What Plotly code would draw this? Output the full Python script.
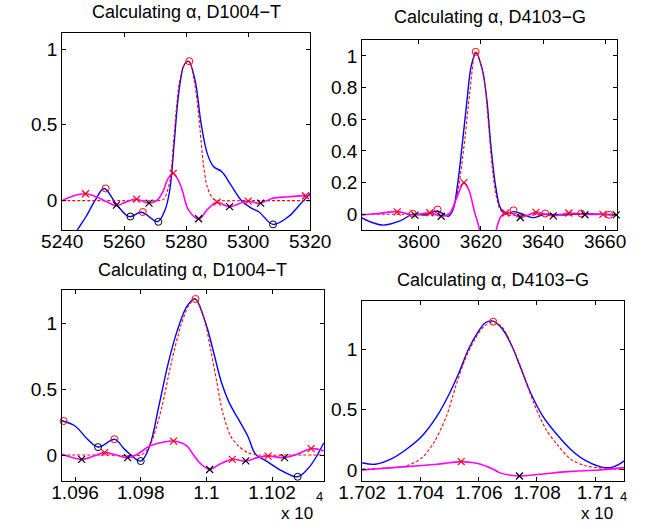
import plotly.graph_objects as go

# ---------------- Panel 1 (D1004-T, top-left) ----------------
p1_blue_x = [5243, 5245, 5247.7, 5250.7, 5253.5, 5257.7, 5261.6, 5265.6, 5270.8, 5273.2, 5274.7, 5276.2, 5277.2, 5278.2, 5279.2, 5280.7, 5282.8, 5284.8, 5286.8, 5288.8, 5291.5, 5294.5, 5297.8, 5301, 5303.5, 5308, 5313, 5316.5, 5321]
p1_blue_y = [-0.26, -0.19, -0.105, 0.005, 0.08, -0.03, -0.106, -0.077, -0.139, -0.06, 0.07, 0.40, 0.64, 0.80, 0.89, 0.92, 0.80, 0.51, 0.31, 0.225, 0.19, 0.10, 0.0, -0.05, -0.075, -0.157, -0.106, -0.03, 0.07]
p1_red_x = [5240, 5260, 5271, 5272.8, 5274.8, 5275.8, 5276.8, 5277.8, 5279.8, 5281, 5282.5, 5283.5, 5284.5, 5285.5, 5286.8, 5288.8, 5291, 5300, 5320]
p1_red_y = [0, 0, 0, 0.01, 0.137, 0.36, 0.60, 0.78, 0.91, 0.92, 0.80, 0.66, 0.46, 0.25, 0.09, 0.01, 0, 0, 0]
p1_mag_x = [5240, 5243.5, 5247.5, 5251, 5254, 5257.5, 5260.5, 5263.8, 5267.8, 5270.5, 5272.5, 5274, 5275.7, 5277.3, 5278.7, 5280.7, 5284, 5286.8, 5289.8, 5293.8, 5299.6, 5303.9, 5307.9, 5313, 5318, 5320]
p1_mag_y = [0.0, 0.03, 0.045, 0.025, -0.005, -0.033, -0.01, 0.011, -0.017, 0.0, 0.06, 0.14, 0.18, 0.14, 0.07, -0.06, -0.123, -0.06, -0.011, -0.04, -0.004, -0.017, 0.016, 0.025, 0.033, 0.03]
p1_rc_x = [5254, 5266, 5281]
p1_rc_y = [0.08, -0.075, 0.92]
p1_kc_x = [5262, 5271, 5308]
p1_kc_y = [-0.105, -0.14, -0.157]
p1_rx_x = [5247.5, 5264, 5275.8, 5290, 5300, 5318.5]
p1_rx_y = [0.045, 0.01, 0.18, -0.01, -0.003, 0.032]
p1_kx_x = [5257.5, 5268, 5284, 5294, 5304]
p1_kx_y = [-0.03, -0.017, -0.12, -0.04, -0.017]

# ---------------- Panel 2 (D4103-G, top-right) ----------------
p2_blue_x = [3581.5, 3584, 3588.4, 3593.9, 3597.9, 3601.9, 3605.9, 3609.5, 3611, 3612.4, 3613.9, 3615.4, 3616.9, 3618.4, 3620.4, 3621.9, 3623.2, 3624.7, 3626.2, 3627.7, 3630.7, 3633.5, 3636.7, 3640.7, 3646.7, 3652.7, 3658, 3663.8]
p2_blue_y = [-0.021, -0.045, -0.068, -0.042, 0.0, -0.004, 0.021, -0.012, 0.03, 0.18, 0.43, 0.70, 0.94, 1.02, 0.915, 0.72, 0.43, 0.18, 0.042, 0.006, 0.017, 0.0, -0.021, 0.0, -0.005, 0.004, 0.0, -0.004]
p2_red_x = [3581.5, 3595, 3609, 3610.5, 3611.8, 3613, 3614.9, 3616.4, 3618.3, 3620.9, 3622.2, 3623.7, 3624.7, 3626.2, 3628, 3640, 3664]
p2_red_y = [0, 0, 0, 0.015, 0.08, 0.2, 0.49, 0.77, 1.03, 0.87, 0.62, 0.28, 0.136, 0.03, 0, 0, 0]
p2_mag_x = [3581.5, 3587, 3593, 3598.4, 3603.4, 3607.2, 3609.7, 3612, 3614.5, 3616, 3618, 3619.5, 3621, 3622.5, 3624.7, 3626.2, 3627.7, 3630, 3632.7, 3637.7, 3643.3, 3648.3, 3653.3, 3659.3, 3663.8]
p2_mag_y = [-0.004, 0.005, 0.017, -0.004, 0.01, -0.011, 0.0, 0.095, 0.2, 0.158, 0.01, -0.095, -0.3, -0.3, -0.116, -0.021, 0.01, 0.005, -0.02, 0.012, -0.01, 0.008, 0.0, 0.0, -0.004]
p2_rc_x = [3598, 3606, 3618.3, 3630.5, 3640.7, 3652.3, 3661.3]
p2_rc_y = [0.004, 0.03, 1.025, 0.025, 0.005, 0.005, -0.003]
p2_kc_x = []
p2_kc_y = []
p2_rx_x = [3593, 3603.5, 3614.5, 3628, 3637.7, 3648.3, 3659.3]
p2_rx_y = [0.015, 0.01, 0.2, 0.008, 0.012, 0.008, 0.0]
p2_kx_x = [3598.7, 3607.2, 3632.7, 3643.3, 3653.5, 3663.6]
p2_kx_y = [-0.005, -0.012, -0.02, -0.01, -0.003, -0.004]

# ---------------- Panel 3 (D1004-T, bottom-left) ----------------
p3_blue_x = [10956, 10960, 10963.8, 10967.1, 10972.1, 10975.1, 10980, 10982.7, 10985.5, 10988.4, 10991.2, 10994.1, 10996.5, 10999.8, 11002.2, 11004.6, 11006.9, 11009.8, 11012.6, 11015, 11018.3, 11023, 11027.8, 11031.6, 11035.8]
p3_blue_y = [0.26, 0.22, 0.12, 0.061, 0.119, 0.043, -0.046, 0.068, 0.37, 0.70, 0.95, 1.13, 1.187, 1.0, 0.78, 0.55, 0.40, 0.27, 0.144, 0.005, -0.046, -0.12, -0.165, -0.084, 0.093]
p3_red_x = [10956, 10970, 10980, 10982, 10983.6, 10986.5, 10989.3, 10992.2, 10994.5, 10996.7, 10999.4, 11001.3, 11003.2, 11005, 11007.4, 11009.8, 11012.6, 11016, 11025, 11035.8]
p3_red_y = [0, 0, 0, 0.04, 0.12, 0.37, 0.70, 0.98, 1.13, 1.185, 1.03, 0.80, 0.55, 0.32, 0.144, 0.068, 0.018, 0, 0, 0]
p3_mag_x = [10956, 10962, 10965.5, 10969, 10972.5, 10976.1, 10978.9, 10982.7, 10986.5, 10990.1, 10994.1, 10995.6, 10998, 11001, 11004, 11007.9, 11012, 11015.5, 11018.8, 11023.8, 11028, 11031.9, 11035.8]
p3_mag_y = [0.005, -0.033, -0.01, 0.018, 0.0, -0.02, 0.005, 0.068, 0.095, 0.106, 0.068, 0.018, -0.06, -0.109, -0.07, -0.033, -0.046, -0.02, -0.008, -0.02, 0.01, 0.048, 0.03]
p3_rc_x = [10956.5, 10972, 10996.7]
p3_rc_y = [0.258, 0.12, 1.185]
p3_kc_x = [10967, 10980, 11027.8]
p3_kc_y = [0.06, -0.046, -0.165]
p3_rx_x = [10969, 10990, 11007.9, 11018.8, 11031.9]
p3_rx_y = [0.018, 0.105, -0.033, -0.008, 0.048]
p3_kx_x = [10962, 10976, 11001, 11012, 11023.8]
p3_kx_y = [-0.033, -0.02, -0.11, -0.045, -0.02]

# ---------------- Panel 4 (D4103-G, bottom-right) ----------------
p4_blue_x = [17020, 17024.5, 17029.8, 17035.1, 17040.5, 17045.8, 17050.1, 17053.3, 17056.5, 17059.7, 17062.3, 17065, 17068.2, 17071.4, 17074.6, 17077.8, 17082, 17086.3, 17091.6, 17096.9, 17103.3, 17106.5, 17110]
p4_blue_y = [0.06, 0.047, 0.089, 0.17, 0.28, 0.45, 0.64, 0.81, 1.0, 1.14, 1.22, 1.234, 1.166, 1.027, 0.834, 0.64, 0.447, 0.31, 0.17, 0.075, 0.019, 0.028, 0.075]
p4_red_x = [17020, 17027, 17035.1, 17040.5, 17044.7, 17049, 17052.2, 17055.4, 17058.6, 17061.8, 17065, 17068.2, 17072.5, 17075.6, 17078.8, 17083.1, 17087.3, 17091.6, 17096.9, 17104.4, 17110]
p4_red_y = [0.006, 0.015, 0.033, 0.10, 0.23, 0.45, 0.70, 0.92, 1.08, 1.19, 1.23, 1.18, 0.97, 0.78, 0.56, 0.337, 0.20, 0.089, 0.033, 0.011, 0.005]
p4_mag_x = [17020, 17035.1, 17045.8, 17050, 17054.1, 17057.5, 17060.7, 17065.5, 17067.1, 17070.5, 17074, 17081, 17090.5, 17101.2, 17110]
p4_mag_y = [0.0, 0.028, 0.047, 0.06, 0.069, 0.062, 0.047, 0.0, -0.022, -0.042, -0.05, -0.036, -0.014, 0.0, 0.019]
p4_rc_x = [17065]
p4_rc_y = [1.229]
p4_kc_x = []
p4_kc_y = []
p4_rx_x = [17054]
p4_rx_y = [0.069]
p4_kx_x = [17074]
p4_kx_y = [-0.05]

# ---------------- titles, ticks ----------------
titles = ["Calculating \u03b1, D1004\u2212T", "Calculating \u03b1, D4103\u2212G",
          "Calculating \u03b1, D1004\u2212T", "Calculating \u03b1, D4103\u2212G"]
p1_xticks = [5240, 5260, 5280, 5300, 5320]
p1_yticks = [0, 0.5, 1]
p2_xticks = [3600, 3620, 3640, 3660]
p2_yticks = [0, 0.2, 0.4, 0.6, 0.8, 1]
p3_xticks = [10960, 10980, 11000, 11020]
p3_xticktext = ["1.096", "1.098", "1.1", "1.102"]
p3_yticks = [0, 0.5, 1]
p4_xticks = [17020, 17040, 17060, 17080, 17100]
p4_xticktext = ["1.702", "1.704", "1.706", "1.708", "1.71"]
p4_yticks = [0, 0.5, 1]
exp_base = "x 10"
exp_power = "4"

W, H = 664, 529
# axes pixel boxes: left, right, top, bottom
boxes = [(41, 307, 33, 230), (362.7, 636, 40, 230), (40.7, 321.7, 290, 480.7), (362.7, 644, 300.7, 480.7)]
xranges = [[5240, 5320], [3581.7, 3663.8], [10956, 11035.8], [17020, 17110]]
yranges = [[-0.194, 1.106], [-0.099, 1.1], [-0.195, 1.253], [-0.089, 1.403]]

panels = [
    (p1_blue_x, p1_blue_y, p1_red_x, p1_red_y, p1_mag_x, p1_mag_y, p1_rc_x, p1_rc_y, p1_kc_x, p1_kc_y, p1_rx_x, p1_rx_y, p1_kx_x, p1_kx_y),
    (p2_blue_x, p2_blue_y, p2_red_x, p2_red_y, p2_mag_x, p2_mag_y, p2_rc_x, p2_rc_y, p2_kc_x, p2_kc_y, p2_rx_x, p2_rx_y, p2_kx_x, p2_kx_y),
    (p3_blue_x, p3_blue_y, p3_red_x, p3_red_y, p3_mag_x, p3_mag_y, p3_rc_x, p3_rc_y, p3_kc_x, p3_kc_y, p3_rx_x, p3_rx_y, p3_kx_x, p3_kx_y),
    (p4_blue_x, p4_blue_y, p4_red_x, p4_red_y, p4_mag_x, p4_mag_y, p4_rc_x, p4_rc_y, p4_kc_x, p4_kc_y, p4_rx_x, p4_rx_y, p4_kx_x, p4_kx_y),
]

FONT = "Liberation Sans, Arial, Helvetica, sans-serif"
fig = go.Figure()
for i, p in enumerate(panels):
    xa = "x" if i == 0 else f"x{i+1}"
    ya = "y" if i == 0 else f"y{i+1}"
    bx, by, rx, ry, mx, my, rcx, rcy, kcx, kcy, rxx, rxy, kxx, kxy = p
    fig.add_trace(go.Scatter(x=bx, y=by, mode="lines", line=dict(color="#0000ff", width=1.4, shape="spline", smoothing=1.0), xaxis=xa, yaxis=ya))
    fig.add_trace(go.Scatter(x=rx, y=ry, mode="lines", line=dict(color="#ff0000", width=1.1, dash="3px,2px", shape="spline", smoothing=0.8), xaxis=xa, yaxis=ya))
    fig.add_trace(go.Scatter(x=mx, y=my, mode="lines", line=dict(color="#ff00ff", width=1.6, shape="spline", smoothing=1.0), xaxis=xa, yaxis=ya))
    if rcx:
        fig.add_trace(go.Scatter(x=rcx, y=rcy, mode="markers", marker=dict(symbol="circle-open", size=7, color="#ff0000", line=dict(width=1)), xaxis=xa, yaxis=ya, cliponaxis=False))
    if kcx:
        fig.add_trace(go.Scatter(x=kcx, y=kcy, mode="markers", marker=dict(symbol="circle-open", size=7, color="#000000", line=dict(width=1)), xaxis=xa, yaxis=ya, cliponaxis=False))
    if rxx:
        fig.add_trace(go.Scatter(x=rxx, y=rxy, mode="markers", marker=dict(symbol="x-thin-open", size=7, color="#ff0000", line=dict(width=1.2, color="#ff0000")), xaxis=xa, yaxis=ya, cliponaxis=False))
    if kxx:
        fig.add_trace(go.Scatter(x=kxx, y=kxy, mode="markers", marker=dict(symbol="x-thin-open", size=7, color="#000000", line=dict(width=1.2, color="#000000")), xaxis=xa, yaxis=ya, cliponaxis=False))

xtick_sets = [(p1_xticks, [str(v) for v in p1_xticks]), (p2_xticks, [str(v) for v in p2_xticks]),
              (p3_xticks, p3_xticktext), (p4_xticks, p4_xticktext)]
ytick_sets = [p1_yticks, p2_yticks, p3_yticks, p4_yticks]

def ytxt(v):
    return "0" if v == 0 else ("1" if v == 1 else f"{v:g}")

layout = dict(width=W, height=H, margin=dict(l=0, r=0, t=0, b=0), showlegend=False,
              paper_bgcolor="white", plot_bgcolor="white", hovermode=False)
annotations = []
for i, (l, r, t, b) in enumerate(boxes):
    sx = "" if i == 0 else str(i + 1)
    axis_common = dict(showline=True, linecolor="black", linewidth=1, mirror="ticks", ticks="inside",
                       ticklen=4, tickcolor="black", tickwidth=1, showgrid=False, zeroline=False,
                       tickfont=dict(family=FONT, size=19, color="black"), fixedrange=True)
    tv, tt = xtick_sets[i]
    layout["xaxis" + sx] = dict(axis_common, domain=[l / W, r / W], range=xranges[i], anchor="y" + sx,
                                tickvals=tv, ticktext=tt, ticklabelstandoff=-6)
    layout["yaxis" + sx] = dict(axis_common, domain=[1 - b / H, 1 - t / H], range=yranges[i], anchor="x" + sx,
                                tickvals=ytick_sets[i], ticktext=[ytxt(v) for v in ytick_sets[i]])
    title_y = [12, 17, 270, 280][i]
    annotations.append(dict(text=titles[i], x=(l + r) / 2 / W, y=1 - title_y / H, xref="paper", yref="paper",
                            showarrow=False, xanchor="center", yanchor="middle",
                            font=dict(family=FONT, size=18, color="black")))
for base_right, pow_center in [(311.7, 317.5), (633.7, 643)]:
    annotations.append(dict(text=exp_base, x=base_right / W, y=1 - 513 / H, xref="paper", yref="paper",
                            showarrow=False, xanchor="right", yanchor="middle",
                            font=dict(family=FONT, size=17, color="black")))
    annotations.append(dict(text=exp_power, x=pow_center / W, y=1 - 496 / H, xref="paper", yref="paper",
                            showarrow=False, xanchor="center", yanchor="middle",
                            font=dict(family=FONT, size=13, color="black")))
layout["annotations"] = annotations
fig.update_layout(**layout)
fig.write_html("out.html", config={"displayModeBar": False, "staticPlot": True},
               post_script="document.body.style.margin='0';document.body.style.padding='0';document.body.style.overflow='hidden';")
